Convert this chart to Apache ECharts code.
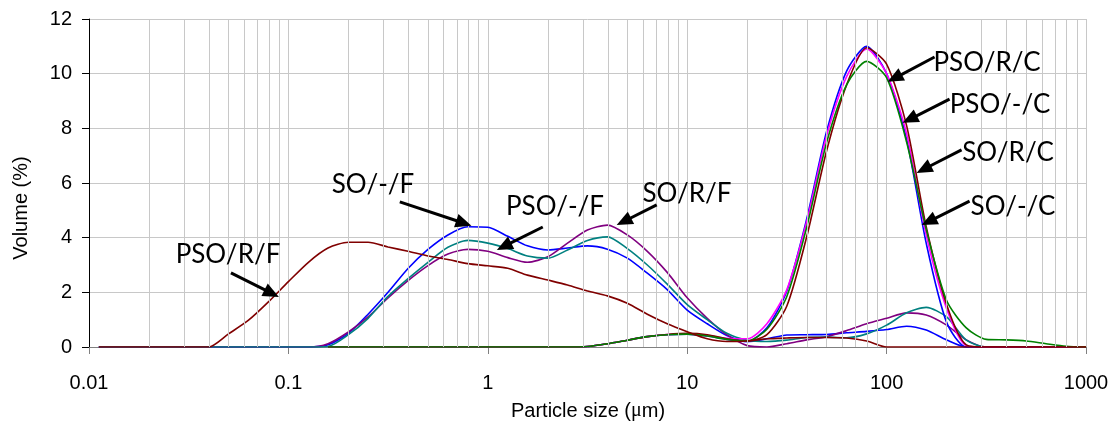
<!DOCTYPE html>
<html><head><meta charset="utf-8">
<script src="https://cdn.jsdelivr.net/npm/echarts@6/dist/echarts.min.js"></script>
<style>html,body{margin:0;padding:0;background:#fff}#c{width:1113px;height:435px}</style>
</head><body><div id="c"></div>
<script>
// Particle sizes (µm), shared by all series
const sizes = [0.0112,0.0126,0.0158,0.02,0.0251,0.0316,0.0398,0.0501,0.0631,0.0794,
  0.1,0.126,0.158,0.2,0.251,0.316,0.398,0.501,0.631,0.794,
  1,1.26,1.58,2,2.51,3.16,3.98,5.01,6.31,7.94,
  10,12.6,15.8,20,25.1,31.6,39.8,50.1,63.1,79.4,
  100,126,158,200,251,316,398,501,631,794,1000];

// Fine fractions
const psoRF = [0,0,0,0,0,0,0,0.48,0.98,1.65,
  2.39,3.1,3.62,3.83,3.83,3.66,3.5,3.33,3.2,3.05,
  2.97,2.88,2.63,2.45,2.27,2.05,1.87,1.6,1.2,0.85,
  0.56,0.3,0.2,0.22,0.3,0.33,0.35,0.35,0.33,0.22,
  0,0,0,0,0,0,0,0,0,0,0];
const soNF = [0,0,0,0,0,0,0,0,0,0,
  0,0,0.08,0.5,1.2,2.0,2.87,3.57,4.1,4.4,
  4.38,4.05,3.7,3.55,3.62,3.7,3.58,3.25,2.7,2.1,
  1.35,0.85,0.42,0.2,0.3,0.44,0.45,0.46,0.52,0.57,
  0.64,0.76,0.62,0.26,0,0,0,0,0,0,0];
const psoNF = [0,0,0,0,0,0,0,0,0,0,
  0,0,0.02,0.45,1.05,1.85,2.5,3.1,3.65,3.9,
  3.8,3.6,3.33,3.25,3.55,3.9,4.03,3.6,3.0,2.3,
  1.55,1.0,0.5,0.25,0.2,0.25,0.35,0.36,0.34,0.48,
  0.8,1.25,1.45,1.1,0.25,0,0,0,0,0,0];
const soRF = [0,0,0,0,0,0,0,0,0,0,
  0,0,0.12,0.55,1.1,1.8,2.43,2.98,3.4,3.57,
  3.5,3.27,3.1,3.3,3.8,4.28,4.46,4.1,3.5,2.73,
  1.8,1.05,0.45,0.05,0,0.12,0.26,0.38,0.6,0.85,
  1.05,1.25,1.17,0.8,0.26,0,0,0,0,0,0];

// Coarse fractions
const soNC = [null,null,null,null,null,null,null,null,null,null,null,null,
  0,0,0,0,0,0,0,0,0,0,0,0,0,
  0.02,0.12,0.25,0.38,0.45,
  0.47,0.4,0.28,0.2,0.7,2.05,4.7,7.9,10.1,11.0,
  10.0,7.6,3.8,0.9,0,0,0,0,0,0,0];
const psoNC = [null,null,null,null,null,null,null,null,null,null,null,null,
  0,0,0,0,0,0,0,0,0,0,0,0,0,
  0.02,0.12,0.25,0.38,0.46,
  0.48,0.42,0.32,0.3,0.85,2.1,4.6,7.75,9.9,10.9,
  10.0,7.8,4.1,1.4,0.05,0,0,0,0,0,0];
const psoRC = [null,null,null,null,null,null,null,null,null,null,null,null,
  0,0,0,0,0,0,0,0,0,0,0,0,0,
  0.02,0.12,0.25,0.38,0.46,
  0.5,0.45,0.3,0.22,0.45,1.5,4.05,7.2,9.6,10.95,
  10.35,8.1,4.4,1.55,0.08,0,0,0,0,0,0];
const soRC = [null,null,null,null,null,null,null,null,null,null,null,null,
  0,0,0,0,0,0,0,0,0,0,0,0,0,
  0.02,0.12,0.25,0.38,0.45,
  0.47,0.4,0.28,0.22,0.65,1.85,4.4,7.5,9.6,10.45,
  9.85,7.5,4.3,1.7,0.7,0.28,0.26,0.22,0.12,0.03,0];

const xTickLabels = ['0.01','0.1','1','10','100','1000'];
const yTicks = {min:0, max:12, interval:2};

// Annotation arrows: tail and tip in data coordinates
const annotations = [
  {name:'PSO/R/F', tail:[0.0515,2.71], tip:[0.0896,1.83], text:[228,255]},
  {name:'SO/-/F',  tail:[0.362,5.31],  tip:[0.828,4.44],  text:[373,185]},
  {name:'PSO/-/F', tail:[1.887,4.39],  tip:[1.11,3.55],   text:[555,207]},
  {name:'SO/R/F',  tail:[7.03,5.2],    tip:[4.43,4.46],   text:[687,194]},
  {name:'PSO/R/C', tail:[174,10.61],   tip:[101.2,9.7],   text:[987,63]},
  {name:'PSO/-/C', tail:[206.9,9.07],  tip:[120.3,8.2],   text:[1000,105]},
  {name:'SO/R/C',  tail:[237.6,7.21],  tip:[141.4,6.37],  text:[1008,153]},
  {name:'SO/-/C',  tail:[260.6,5.34],  tip:[149.8,4.46],  text:[1013,207]}
];

// minor vertical grid lines at 2..9 x each decade
const minorGrid = [];
for (let e = -2; e < 3; e++) for (let m = 2; m <= 9; m++) minorGrid.push(+(m * Math.pow(10, e)).toPrecision(3));

const mk = arr => sizes.map((s, i) => [s, arr[i]]);
const seriesDefs = [
  {name:'SO/-/F', data:soNF, color:'#0000FF'},
  {name:'SO/R/F', data:soRF, color:'#800080'},
  {name:'PSO/-/F', data:psoNF, color:'#008080'},
  {name:'SO/-/C', data:soNC, color:'#0000FF'},
  {name:'PSO/-/C', data:psoNC, color:'#FF00FF'},
  {name:'PSO/R/C', data:psoRC, color:'#800000'},
  {name:'SO/R/C', data:soRC, color:'#008000'},
  {name:'PSO/R/F', data:psoRF, color:'#800000'}
];

const GRID = '#c8c8c8';
const chart = echarts.init(document.getElementById('c'), null, {renderer:'canvas'});
const series = seriesDefs.map(d => ({
  name:d.name, type:'line', data:mk(d.data), showSymbol:false, symbol:'none',
  smooth:0.25, connectNulls:false, lineStyle:{color:d.color, width:1.6}, itemStyle:{color:d.color},
  animation:false, silent:true
}));
series.unshift({
  type:'line', data:[], silent:true, animation:false, z:1,
  markLine:{silent:true, symbol:['none','none'], animation:false, label:{show:false},
    lineStyle:{color:GRID, type:'solid', width:1},
    data:minorGrid.map(v => ({xAxis:v}))}
});

chart.setOption({
  animation:false,
  grid:{left:89, right:27, top:19, bottom:88},
  xAxis:{type:'log', logBase:10, min:0.01, max:1000, splitNumber:5,
    axisLine:{show:true, lineStyle:{color:'#808080', width:1}},
    axisTick:{show:true, inside:false, length:7, lineStyle:{color:'#808080'}},
    axisLabel:{fontFamily:'Liberation Sans, Arial', fontSize:20, color:'#000', margin:26,
      formatter:v => xTickLabels[Math.round(Math.log10(v)) + 2]},
    splitLine:{show:true, lineStyle:{color:GRID, width:1}},
    minorTick:{show:false}},
  yAxis:{type:'value', min:yTicks.min, max:yTicks.max, interval:yTicks.interval,
    axisLine:{show:true, lineStyle:{color:'#000', width:1}},
    axisTick:{show:true, inside:false, length:7, lineStyle:{color:'#000'}},
    axisLabel:{fontFamily:'Liberation Sans, Arial', fontSize:20, color:'#000', margin:17},
    splitLine:{show:true, lineStyle:{color:GRID, width:1}}},
  series:series
});

// Build annotations (text + arrows) from data coordinates
const g = [];
annotations.forEach(a => {
  const p0 = chart.convertToPixel({gridIndex:0}, a.tail);
  const p1 = chart.convertToPixel({gridIndex:0}, a.tip);
  const dx = p1[0]-p0[0], dy = p1[1]-p0[1], L = Math.hypot(dx,dy);
  const ux = dx/L, uy = dy/L, hl = 16, hw = 7;
  const bx = p1[0]-ux*hl, by = p1[1]-uy*hl;
  g.push({type:'line', silent:true, z:100,
    shape:{x1:p0[0], y1:p0[1], x2:bx+ux*2, y2:by+uy*2},
    style:{stroke:'#000', lineWidth:3}});
  g.push({type:'polygon', silent:true, z:100,
    shape:{points:[[p1[0],p1[1]],[bx-uy*hw,by+ux*hw],[bx+uy*hw,by-ux*hw]]},
    style:{fill:'#000'}});
  g.push({type:'text', silent:true, z:100, x:a.text[0], y:a.text[1],
    style:{text:a.name, fontFamily:'Lato, Open Sans, sans-serif', fontSize:26,
      fill:'#000', align:'center', verticalAlign:'middle'}});
});
g.push({type:'text', silent:true, x:21, y:208, rotation:Math.PI/2,
  style:{text:'Volume (%)', fontFamily:'Liberation Sans, Arial', fontSize:20, fill:'#000',
    align:'center', verticalAlign:'middle'}});
g.push({type:'text', silent:true, x:588, y:411,
  style:{rich:{a:{fontFamily:'Liberation Sans, Arial', fontSize:20, fill:'#000'},
              m:{fontFamily:'Liberation Serif, DejaVu Serif, serif', fontSize:20, fill:'#000'}},
    text:'{a|Particle size (}{m|\u03bc}{a|m)}', align:'center', verticalAlign:'middle'}});
chart.setOption({graphic:g});
</script></body></html>
